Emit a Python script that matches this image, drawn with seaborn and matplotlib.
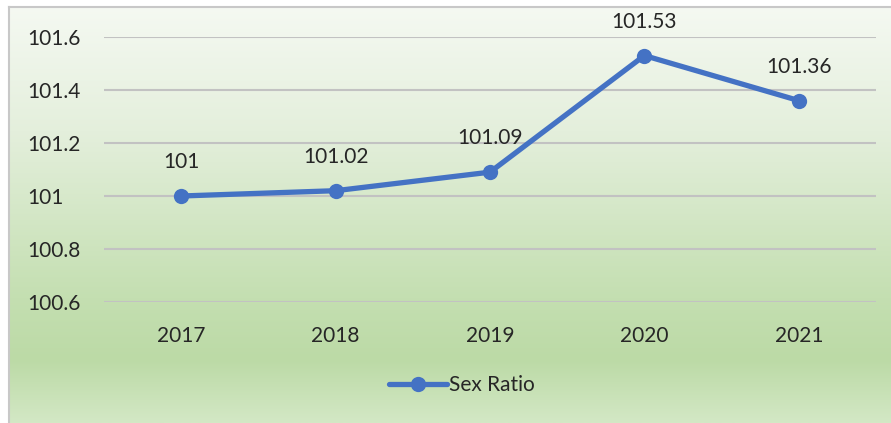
import matplotlib

matplotlib.use("Agg")

import matplotlib.pyplot as plt
import numpy as np
import pandas as pd
import seaborn as sns
from matplotlib.colors import LinearSegmentedColormap

years = ["2017", "2018", "2019", "2020", "2021"]
sex_ratio = [101.00, 101.02, 101.09, 101.53, 101.36]
point_labels = ["101", "101.02", "101.09", "101.53", "101.36"]
y_ticks = [100.6, 100.8, 101.0, 101.2, 101.4, 101.6]
y_tick_labels = ["100.6", "100.8", "101", "101.2", "101.4", "101.6"]

df = pd.DataFrame({"year": years, "ratio": sex_ratio})

sns.set_theme(style="white")
plt.rcParams["font.family"] = ["Lato", "DejaVu Sans"]

W, H = 891, 423
fig = plt.figure(figsize=(W / 100, H / 100), dpi=100)
fig.patch.set_facecolor("white")

# background panel with vertical gradient (Excel style)
bg = fig.add_axes([9 / W, 0, 1 - 9 / W, 1 - 7 / H])
grad = LinearSegmentedColormap.from_list(
    "g",
    [(0.0, "#f5f9f2"), (0.3, "#e4efdc"), (0.7, "#c4dfb1"), (0.85, "#bcdaa6"), (1.0, "#d3e8c5")],
)
bg.imshow(np.linspace(0, 1, 256).reshape(-1, 1), aspect="auto", cmap=grad,
          extent=[0, 1, 0, 1], origin="upper")
bg.set_xlim(0, 1)
bg.set_ylim(0, 1)
bg.set_xticks([])
bg.set_yticks([])
for side in ["right", "bottom"]:
    bg.spines[side].set_visible(False)
for side in ["left", "top"]:
    bg.spines[side].set_color("#c8c8c8")
    bg.spines[side].set_linewidth(1.5)

left, right = 104 / W, 876 / W
top, bottom = 1 - 37 / H, 1 - 302 / H
ax = fig.add_axes([left, bottom, right - left, top - bottom])
ax.patch.set_alpha(0)

sns.lineplot(data=df, x="year", y="ratio", ax=ax, color="#4472c4", linewidth=3.8,
             marker="o", markersize=11, markeredgewidth=0, label="Sex Ratio")

for i, (v, lab) in enumerate(zip(sex_ratio, point_labels)):
    ax.annotate(lab, (i, v), xytext=(0, 24.5), textcoords="offset points",
                ha="center", va="center", fontsize=15, color="#262626")

ax.set_xlim(-0.5, len(years) - 0.5)
ax.set_ylim(100.6, 101.6)
ax.set_yticks(y_ticks)
ax.set_yticklabels(y_tick_labels)
ax.grid(axis="y", color="#c2c2c2", linewidth=1.5)
ax.set_axisbelow(True)
for s in ax.spines.values():
    s.set_visible(False)
ax.tick_params(axis="both", length=0, labelsize=15, labelcolor="#262626")
ax.tick_params(axis="y", pad=55)
ax.tick_params(axis="x", pad=17)
for t in ax.get_yticklabels():
    t.set_horizontalalignment("left")
ax.set_xlabel("")
ax.set_ylabel("")

ax.legend(loc="center", bbox_to_anchor=(462 / W, 1 - 385 / H), bbox_transform=fig.transFigure,
          frameon=False, fontsize=15, handlelength=2.8, handletextpad=0.1,
          labelcolor="#262626")

fig.savefig("out.png", dpi=100)
